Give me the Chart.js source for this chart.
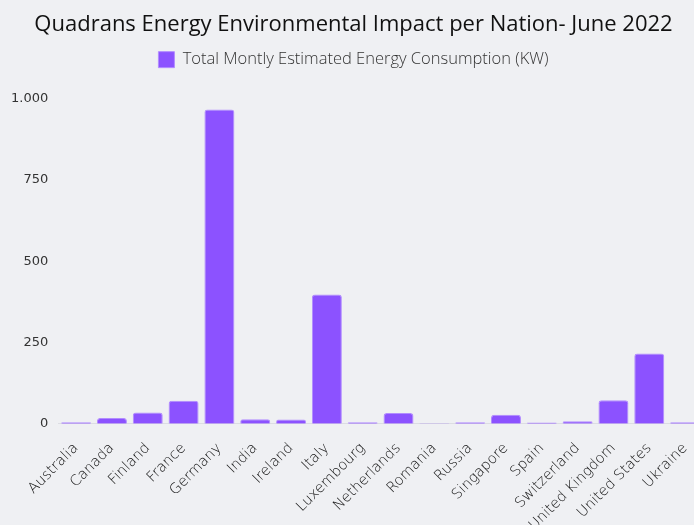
<!DOCTYPE html>
<html>
<head>
<meta charset="utf-8">
<script src="https://cdn.jsdelivr.net/npm/chart.js@4"></script>
<style>
  html, body { margin: 0; padding: 0; background: #eff0f3; overflow: hidden; }
  #wrap { width: 706px; height: 550px; }
</style>
</head>
<body>
<div id="wrap"><canvas id="chart"></canvas></div>
<script>
const countries = ['Australia', 'Canada', 'Finland', 'France', 'Germany', 'India', 'Ireland', 'Italy',
  'Luxembourg', 'Netherlands', 'Romania', 'Russia', 'Singapore', 'Spain', 'Switzerland',
  'United Kingdom', 'United States', 'Ukraine'];
const consumption = [5, 18, 35, 71, 967, 14, 13, 398, 5, 33, 1.5, 5, 28, 4, 8, 72, 216, 5];
const seriesLabel = 'Total Montly Estimated Energy Consumption (KW)';
const titleText = 'Quadrans Energy Environmental Impact per Nation- June 2022';

// extra room under the legend, like the original
const legendGap = {
  id: 'legendGap',
  beforeInit(chart) {
    const fit = chart.legend.fit;
    chart.legend.fit = function () {
      fit.bind(chart.legend)();
      this.height += 21;
    };
  }
};

const ctx = document.getElementById('chart').getContext('2d');
new Chart(ctx, {
  type: 'bar',
  data: {
    labels: countries,
    datasets: [{
      label: seriesLabel, data: consumption,
      backgroundColor: '#8c52ff', borderColor: '#b28cff',
      borderWidth: 1, borderRadius: 3, borderSkipped: 'bottom',
      categoryPercentage: 0.9, barPercentage: 0.93
    }]
  },
  options: {
    responsive: true, maintainAspectRatio: false, animation: false,
    layout: { padding: { left: 1, right: 0, top: 2, bottom: 0 } },
    plugins: {
      title: {
        display: true, text: titleText, color: '#111',
        font: { family: 'Open Sans', size: 22, weight: 'normal' },
        padding: { top: 10, bottom: 3 }
      },
      legend: {
        labels: {
          color: '#333', boxWidth: 16, boxHeight: 16, padding: 10,
          font: { family: 'Open Sans', size: 16.5, weight: 300 }
        }
      },
      tooltip: { enabled: false }
    },
    scales: {
      x: {
        afterFit: s => { s.paddingRight = 3; },
        grid: { display: false, drawTicks: false },
        border: { color: '#dcdde3' },
        ticks: {
          color: '#111', maxRotation: 45, minRotation: 45, autoSkip: false, padding: 16,
          font: { family: 'DejaVu Sans', size: 14.5, weight: 200 }
        }
      },
      y: {
        min: 0, max: 1000,
        grid: { display: false, drawTicks: false },
        border: { display: false },
        ticks: {
          stepSize: 250, color: '#333', padding: 10,
          font: { family: 'DejaVu Sans', size: 13, weight: 'normal' },
          callback: v => v.toLocaleString('de-DE')
        }
      }
    }
  },
  plugins: [legendGap]
});
</script>
</body>
</html>
